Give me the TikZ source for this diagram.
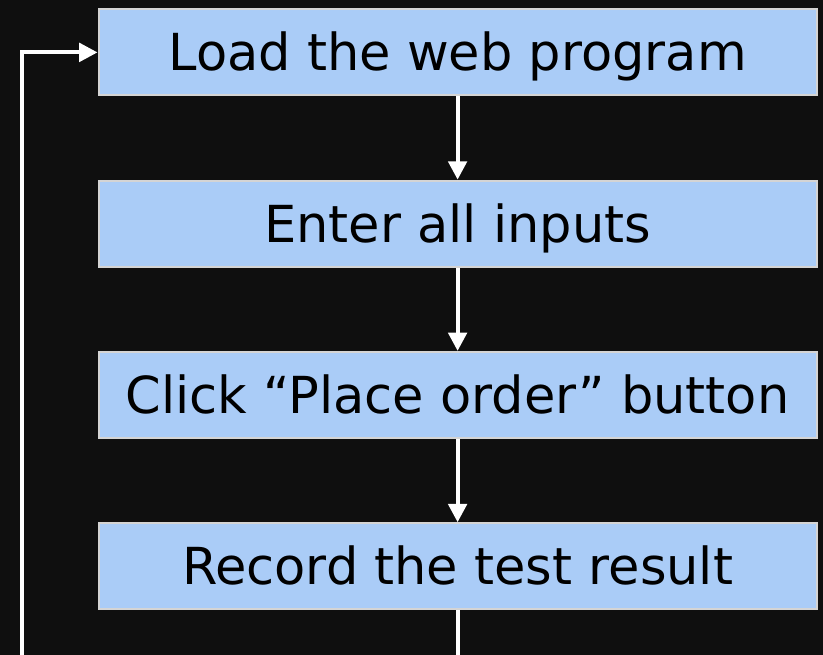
\documentclass[tikz,border=0pt]{standalone}
\usepackage{fontspec}
\setmainfont{DejaVu Sans}
\usetikzlibrary{arrows.meta, positioning}
\tikzset{>={Triangle[length=0.46cm,width=0.46cm]}}
\definecolor{stepfill}{RGB}{170,204,247}
\definecolor{stepline}{RGB}{212,212,212}
\definecolor{bgdark}{RGB}{15,15,15}

\begin{document}
\begin{tikzpicture}[
  stepbox/.style={draw=stepline, line width=1.5pt, fill=stepfill,
    minimum width=17.95cm, minimum height=2.15cm, inner sep=0pt,
    text height=1.2cm, text depth=0.27cm,
    font=\fontsize{36.3}{44}\selectfont, text=black},
  flow/.style={->, white, line width=2.9pt},
  node distance=2.08cm]
  \fill [bgdark] (0,0) rectangle (20.575,-16.375);
  \useasboundingbox (0,0) rectangle (20.575,-16.375);
  % the four steps
  \node[stepbox] (load) at (11.44,-1.31) {Load the web program};
  \node[stepbox, below=of load] (enter) {Enter all inputs};
  \node[stepbox, below=of enter] (click) {Click “Place order” button};
  \node[stepbox, below=of click] (record) {Record the test result};
  \draw[flow] (load) -- (enter);
  \draw[flow] (enter) -- (click);
  \draw[flow] (click) -- (record);
  % loop back
  \coordinate (back) at (0.55,-17.5);
  \draw[flow] (record.south) -- (record.south |- back) -- (back) |- (load.west);
\end{tikzpicture}
\end{document}
